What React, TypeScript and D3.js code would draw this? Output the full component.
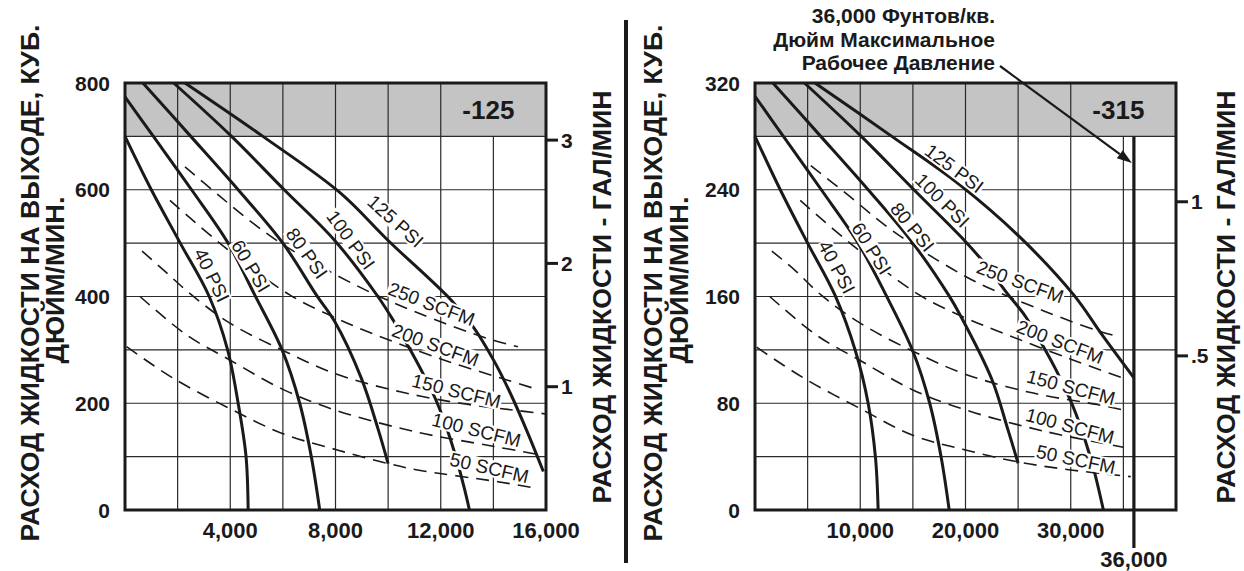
import { useEffect, useRef } from 'react'
import * as d3 from 'd3'

type Pt = [number, number]
type Label = { text: string; x: number; y: number; a: number }

const GAL = 231 // cubic inches in one US gallon
const FONT = "'Liberation Sans', Arial, Helvetica, sans-serif"
const INK = '#1a1a1a'

// ---------- -125 (left) ----------
const L_TICKS_X = [4000, 8000, 12000, 16000]
const L_TICKS_Y = [0, 200, 400, 600, 800]
const L_TICKS_GAL = [1, 2, 3]

const L_PSI_40: Pt[] = [[0, 700], [1000, 600], [2100, 500], [3200, 400], [3900, 300], [4300, 200], [4600, 100], [4680, 0]]
const L_PSI_60: Pt[] = [[0, 774], [1080, 700], [2530, 600], [3920, 500], [4930, 403], [5970, 300], [6640, 200], [7080, 100], [7400, 0]]
const L_PSI_80: Pt[] = [[680, 800], [2500, 700], [4300, 600], [6000, 500], [7270, 403], [7970, 353], [8980, 247], [9610, 153], [10000, 87]]
const L_PSI_100: Pt[] = [[1850, 800], [4050, 700], [6050, 600], [7970, 505], [9610, 400], [10200, 355], [10750, 308], [11300, 258], [11800, 208], [12250, 150], [12600, 95], [12900, 40], [13090, 0]]
const L_PSI_125: Pt[] = [[2280, 800], [5240, 700], [8160, 595], [10000, 505], [12400, 393], [13280, 340], [14040, 278], [14680, 215], [15300, 145], [15900, 72]]

const L_SCFM_250: Pt[] = [[2280, 643], [3600, 588], [4900, 536], [6140, 493], [8900, 418], [11000, 372], [13790, 321], [14930, 306]]
const L_SCFM_200: Pt[] = [[1710, 580], [3800, 492], [6260, 403], [8000, 360], [9230, 334], [12000, 283], [14550, 243], [15600, 227]]
const L_SCFM_150: Pt[] = [[650, 485], [1500, 448], [2530, 403], [3985, 350], [6000, 299], [7950, 256], [10500, 221], [13000, 198], [14800, 187], [16000, 180]]
const L_SCFM_100: Pt[] = [[570, 400], [2340, 328], [3985, 281], [6000, 226], [8000, 187], [11000, 147], [14040, 119], [15600, 105]]
const L_SCFM_50: Pt[] = [[60, 306], [1830, 247], [3985, 190], [6000, 143], [8100, 112], [10000, 87], [11120, 75], [14170, 53], [15600, 41]]

const L_LABELS: Label[] = [
  { text: '40 PSI', x: 3300, y: 440, a: 64 },
  { text: '60 PSI', x: 4780, y: 457, a: 59 },
  { text: '80 PSI', x: 6910, y: 481, a: 55 },
  { text: '100 PSI', x: 8580, y: 506, a: 54 },
  { text: '125 PSI', x: 10280, y: 541, a: 42 },
  { text: '250 SCFM', x: 11650, y: 386, a: 21 },
  { text: '200 SCFM', x: 11800, y: 309, a: 20 },
  { text: '150 SCFM', x: 12600, y: 223, a: 14 },
  { text: '100 SCFM', x: 13360, y: 150, a: 14 },
  { text: '50 SCFM', x: 13850, y: 79, a: 13 },
]

// ---------- -315 (right) ----------
const R_TICKS_X = [10000, 20000, 30000]
const R_TICKS_Y = [0, 80, 160, 240, 320]
const R_TICKS_GAL = [0.5, 1]
const R_MAX_PRESSURE = 36000

const R_PSI_40: Pt[] = [[0, 280], [2400, 240], [5000, 200], [7600, 161], [9550, 119], [10750, 80], [11450, 39], [11700, 0]]
const R_PSI_60: Pt[] = [[0, 310], [2700, 280], [6300, 240], [9800, 200], [12450, 161], [15000, 119], [16600, 80], [17700, 39], [18450, 0]]
const R_PSI_80: Pt[] = [[1700, 320], [6250, 280], [10750, 240], [15000, 200], [18400, 161], [19500, 146], [22500, 98], [24000, 61], [25000, 35]]
const R_PSI_100: Pt[] = [[4700, 320], [10100, 280], [15100, 240], [19900, 202], [21900, 184], [24000, 162], [25700, 145], [27500, 121], [28600, 105], [29700, 87], [30500, 72], [31300, 54], [32200, 30], [33100, 0]]
const R_PSI_125: Pt[] = [[5700, 320], [13000, 280], [19400, 244], [25100, 205], [30300, 161], [33000, 131], [36000, 99]]

const R_SCFM_250: Pt[] = [[5300, 258], [9000, 235], [12250, 214], [15350, 197], [20000, 175], [22600, 165], [27500, 149], [32700, 134], [34600, 130]]
const R_SCFM_200: Pt[] = [[4300, 232], [9500, 197], [15650, 161], [20000, 144], [23100, 134], [30000, 113], [34900, 99]]
const R_SCFM_150: Pt[] = [[1600, 194], [3750, 180], [6300, 161], [10000, 140], [15000, 119], [19900, 102], [26200, 88], [32500, 79], [35000, 75]]
const R_SCFM_100: Pt[] = [[1400, 160], [5850, 131], [10000, 112], [15000, 90], [20000, 75], [27500, 59], [35000, 47]]
const R_SCFM_50: Pt[] = [[150, 122], [4600, 99], [10000, 76], [15000, 56], [20000, 45], [25000, 36], [30000, 30], [35700, 25]]

const R_LABELS: Label[] = [
  { text: '125 PSI', x: 18940, y: 256, a: 37 },
  { text: '100 PSI', x: 17800, y: 232, a: 45 },
  { text: '80 PSI', x: 14960, y: 212, a: 51 },
  { text: '60 PSI', x: 11080, y: 196, a: 58 },
  { text: '40 PSI', x: 7770, y: 182, a: 62 },
  { text: '250 SCFM', x: 25190, y: 171, a: 20 },
  { text: '200 SCFM', x: 28980, y: 126, a: 21 },
  { text: '150 SCFM', x: 30020, y: 92, a: 15 },
  { text: '100 SCFM', x: 29930, y: 63, a: 15 },
  { text: '50 SCFM', x: 30490, y: 38, a: 12 },
]

const NOTE = ['36,000 Фунтов/кв.', 'Дюйм Максимальное', 'Рабочее Давление']
const TITLE_1 = 'РАСХОД ЖИДКОСТИ НА ВЫХОДЕ, КУБ.'
const TITLE_2 = 'ДЮЙМ/МИН.'
const TITLE_R = 'РАСХОД ЖИДКОСТИ - ГАЛ/МИН'

const TOP = 83
const BOTTOM = 510
const PW = 421

type Cfg = {
  left: number
  xMax: number
  yMax: number
  band: number
  gridX: number
  gridY: number
  ticksX: number[]
  ticksY: number[]
  ticksGal: number[]
  model: string
  solid: Pt[][]
  dashed: Pt[][]
  labels: Label[]
  maxPressure?: number
}

function drawChart(svg: d3.Selection<SVGSVGElement, unknown, null, undefined>, c: Cfg) {
  const x = d3.scaleLinear().domain([0, c.xMax]).range([c.left, c.left + PW])
  const y = d3.scaleLinear().domain([0, c.yMax]).range([BOTTOM, TOP])
  const g = svg.append('g')

  g.append('rect')
    .attr('x', x(0)).attr('y', y(c.yMax))
    .attr('width', x(c.xMax) - x(0)).attr('height', y(c.band) - y(c.yMax))
    .attr('fill', '#c4c4c4')

  d3.range(c.gridX, c.xMax, c.gridX).forEach(v => {
    const top = v >= c.xMax - c.gridX ? y(c.band) : y(c.yMax)
    g.append('line').attr('x1', x(v)).attr('x2', x(v)).attr('y1', top).attr('y2', y(0))
      .attr('stroke', '#2a2a2a').attr('stroke-width', 1.2)
  })
  d3.range(c.gridY, c.yMax, c.gridY).forEach(v => {
    g.append('line').attr('x1', x(0)).attr('x2', x(c.xMax)).attr('y1', y(v)).attr('y2', y(v))
      .attr('stroke', '#2a2a2a').attr('stroke-width', 1.2)
  })

  const line = d3.line<Pt>().x(d => x(d[0])).y(d => y(d[1])).curve(d3.curveCatmullRom.alpha(0.5))

  c.dashed.forEach(pts => {
    g.append('path').attr('d', line(pts)).attr('fill', 'none')
      .attr('stroke', INK).attr('stroke-width', 1.6).attr('stroke-dasharray', '13,8')
  })
  c.solid.forEach(pts => {
    g.append('path').attr('d', line(pts)).attr('fill', 'none')
      .attr('stroke', INK).attr('stroke-width', 3)
  })

  c.labels.forEach(l => {
    const lg = g.append('g').attr('transform', `translate(${x(l.x)},${y(l.y)}) rotate(${l.a})`)
    const t = lg.append('text').attr('text-anchor', 'middle').attr('dy', '0.35em')
      .attr('font-family', FONT).attr('font-size', 19).attr('fill', INK).text(l.text)
    const b = (t.node() as SVGTextElement).getBBox()
    lg.insert('rect', 'text').attr('x', b.x - 1).attr('y', b.y + 2)
      .attr('width', b.width + 2).attr('height', b.height - 4).attr('fill', '#fff')
  })

  g.append('rect').attr('x', x(0)).attr('y', y(c.yMax))
    .attr('width', x(c.xMax) - x(0)).attr('height', y(0) - y(c.yMax))
    .attr('fill', 'none').attr('stroke', INK).attr('stroke-width', 3)

  // model number in the grey band
  g.append('text').attr('x', x(c.xMax * 0.863)).attr('y', y((c.yMax + c.band) / 2) + 9)
    .attr('text-anchor', 'middle').attr('font-family', FONT).attr('font-weight', 'bold')
    .attr('font-size', 26).attr('fill', INK).text(c.model)

  const fmt = d3.format(',')
  c.ticksY.forEach(v => {
    g.append('text').attr('x', x(0) - 15).attr('y', y(v) + 7.5).attr('text-anchor', 'end')
      .attr('font-family', FONT).attr('font-weight', 'bold').attr('font-size', 21).attr('fill', INK)
      .text(v)
  })
  c.ticksX.forEach(v => {
    g.append('text').attr('x', x(v)).attr('y', 538).attr('text-anchor', 'middle')
      .attr('font-family', FONT).attr('font-weight', 'bold').attr('font-size', 22).attr('fill', INK)
      .text(fmt(v))
  })
  c.ticksGal.forEach(v => {
    g.append('line').attr('x1', x(c.xMax)).attr('x2', x(c.xMax) + 12)
      .attr('y1', y(v * GAL)).attr('y2', y(v * GAL)).attr('stroke', INK).attr('stroke-width', 3)
    g.append('text').attr('x', x(c.xMax) + 15).attr('y', y(v * GAL) + 7.5)
      .attr('font-family', FONT).attr('font-weight', 'bold').attr('font-size', 21).attr('fill', INK)
      .text(v < 1 ? String(v).replace('0.', '.') : v)
  })

  if (c.maxPressure) {
    const mx = x(c.maxPressure)
    g.append('line').attr('x1', mx).attr('x2', mx).attr('y1', y(c.band)).attr('y2', 548)
      .attr('stroke', INK).attr('stroke-width', 3.2)
    g.append('text').attr('x', mx).attr('y', 567).attr('text-anchor', 'middle')
      .attr('font-family', FONT).attr('font-weight', 'bold').attr('font-size', 22).attr('fill', INK)
      .text(fmt(c.maxPressure))

    NOTE.forEach((s, i) => {
      g.append('text').attr('x', 995).attr('y', 23 + i * 23.5).attr('text-anchor', 'end')
        .attr('font-family', FONT).attr('font-weight', 'bold').attr('font-size', 21).attr('fill', INK)
        .text(s)
    })
    const tipX = mx - 2
    const tipY = y(260)
    const sx = 1000
    const sy = 66
    const ang = Math.atan2(tipY - sy, tipX - sx)
    const hl = 15
    const hw = 5
    const bx = tipX - hl * Math.cos(ang)
    const by = tipY - hl * Math.sin(ang)
    g.append('line').attr('x1', sx).attr('y1', sy).attr('x2', bx).attr('y2', by)
      .attr('stroke', INK).attr('stroke-width', 2.2)
    g.append('path')
      .attr('d', `M${tipX},${tipY}L${bx + hw * Math.sin(ang)},${by - hw * Math.cos(ang)}L${bx - hw * Math.sin(ang)},${by + hw * Math.cos(ang)}Z`)
      .attr('fill', INK)
  }
}

function title(svg: d3.Selection<SVGSVGElement, unknown, null, undefined>, s: string, bx: number, cy: number, len: number) {
  svg.append('text').attr('transform', `translate(${bx},${cy}) rotate(-90)`)
    .attr('text-anchor', 'middle').attr('font-family', FONT).attr('font-weight', 'bold')
    .attr('font-size', 25).attr('fill', INK)
    .attr('textLength', len).attr('lengthAdjust', 'spacingAndGlyphs').text(s)
}

export default function App() {
  const ref = useRef<SVGSVGElement>(null)

  useEffect(() => {
    if (!ref.current) return
    const svg = d3.select(ref.current)
    svg.selectAll('*').remove()

    drawChart(svg, {
      left: 125, xMax: 16000, yMax: 800, band: 700, gridX: 2000, gridY: 100,
      ticksX: L_TICKS_X, ticksY: L_TICKS_Y, ticksGal: L_TICKS_GAL, model: '-125',
      solid: [L_PSI_40, L_PSI_60, L_PSI_80, L_PSI_100, L_PSI_125],
      dashed: [L_SCFM_250, L_SCFM_200, L_SCFM_150, L_SCFM_100, L_SCFM_50],
      labels: L_LABELS,
    })
    drawChart(svg, {
      left: 755, xMax: 40000, yMax: 320, band: 280, gridX: 5000, gridY: 40,
      ticksX: R_TICKS_X, ticksY: R_TICKS_Y, ticksGal: R_TICKS_GAL, model: '-315',
      solid: [R_PSI_40, R_PSI_60, R_PSI_80, R_PSI_100, R_PSI_125],
      dashed: [R_SCFM_250, R_SCFM_200, R_SCFM_150, R_SCFM_100, R_SCFM_50],
      labels: R_LABELS, maxPressure: R_MAX_PRESSURE,
    })

    title(svg, TITLE_1, 39, 283, 517)
    title(svg, TITLE_2, 64, 280, 167)
    title(svg, TITLE_R, 611, 297, 413)
    title(svg, TITLE_1, 662, 283, 517)
    title(svg, TITLE_2, 688, 280, 167)
    title(svg, TITLE_R, 1235, 297, 413)

    svg.append('line').attr('x1', 626).attr('x2', 626).attr('y1', 20).attr('y2', 563)
      .attr('stroke', INK).attr('stroke-width', 4)
  }, [])

  return (
    <svg ref={ref} width={1244} height={571}
      style={{ position: 'absolute', left: 0, top: 0, background: '#fff' }} />
  )
}
